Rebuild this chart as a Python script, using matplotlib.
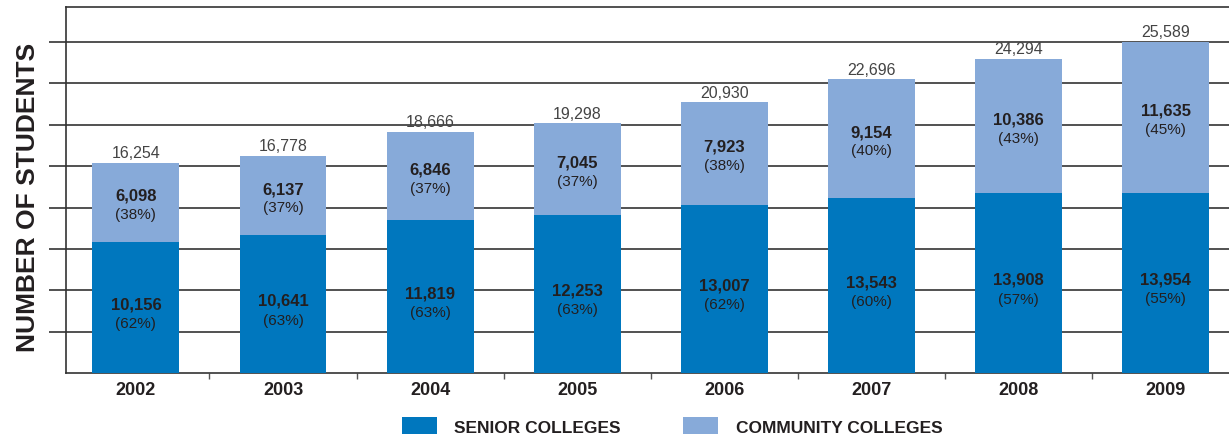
import matplotlib.pyplot as plt
from matplotlib.patches import Patch

plt.rcParams['font.family'] = ['Liberation Sans', 'DejaVu Sans']
narrow = ['Liberation Sans Narrow', 'Liberation Sans', 'DejaVu Sans']

years = ['2002', '2003', '2004', '2005', '2006', '2007', '2008', '2009']
senior = [10156, 10641, 11819, 12253, 13007, 13543, 13908, 13954]
community = [6098, 6137, 6846, 7045, 7923, 9154, 10386, 11635]
totals = [16254, 16778, 18666, 19298, 20930, 22696, 24294, 25589]
senior_pct = [62, 63, 63, 63, 62, 60, 57, 55]
community_pct = [38, 37, 37, 37, 38, 40, 43, 45]

dark = '#0077be'
light = '#87aad9'
ink = '#231f20'

fig = plt.figure(figsize=(12.29, 4.35), dpi=100)
ax = fig.add_axes([0.0537, 0.140, 0.9463, 0.8416])

x = list(range(len(years)))
ax.bar(x, senior, width=0.59, color=dark, zorder=3)
ax.bar(x, community, width=0.59, bottom=senior, color=light, zorder=3)

for i in x:
    mid = senior[i] / 2
    ax.text(i, mid + 300, f'{senior[i]:,}', ha='center', va='center',
            fontsize=12, fontweight='bold', color=ink, zorder=4)
    ax.text(i, mid - 1200, f'({senior_pct[i]}%)', ha='center', va='center',
            fontsize=11, color=ink, zorder=4)
    mid = senior[i] + community[i] / 2
    ax.text(i, mid + 550, f'{community[i]:,}', ha='center', va='center',
            fontsize=12, fontweight='bold', color=ink, zorder=4)
    ax.text(i, mid - 900, f'({community_pct[i]}%)', ha='center', va='center',
            fontsize=11, color=ink, zorder=4)
    ax.text(i, totals[i] + 200, f'{totals[i]:,}', ha='center', va='bottom',
            fontsize=11.5, color='#444444', zorder=4)

ax.set_xlim(-0.475, 7.43)
ax.set_ylim(0, 28300)
ax.set_yticks([3200 * k for k in range(1, 9)])
ax.set_yticklabels([])
ax.yaxis.grid(True, color='#333333', linewidth=1.2, zorder=1)
ax.tick_params(axis='y', length=12, width=1.2, color='#333333', direction='out')

ax.set_xticks(x)
ax.set_xticklabels(years, fontsize=13, fontweight='bold', color=ink)
ax.set_xticks([i + 0.5 for i in range(7)], minor=True)
ax.tick_params(axis='x', which='major', length=0, pad=6)
ax.tick_params(axis='x', which='minor', length=4, width=1, color='#555555')

for s in ['left', 'bottom', 'top']:
    ax.spines[s].set_color('#333333')
    ax.spines[s].set_linewidth(1.2)
ax.spines['right'].set_visible(False)

fig.text(28 / 1229, 1 - 197 / 435, 'NUMBER OF STUDENTS', rotation=90,
         ha='center', va='center', fontsize=19, fontweight='bold',
         color=ink, family=narrow)

handles = [Patch(facecolor=dark), Patch(facecolor=light)]
fig.legend(handles, ['SENIOR COLLEGES', 'COMMUNITY COLLEGES'], loc='lower center',
           bbox_to_anchor=(0.547, -0.04), ncol=2, frameon=False,
           handlelength=2.0, handleheight=1.25, handletextpad=1.0, columnspacing=3.6,
           prop={'size': 12.5, 'weight': 'bold', 'family': narrow}, labelcolor=ink)

fig.savefig('out.png', dpi=100)
